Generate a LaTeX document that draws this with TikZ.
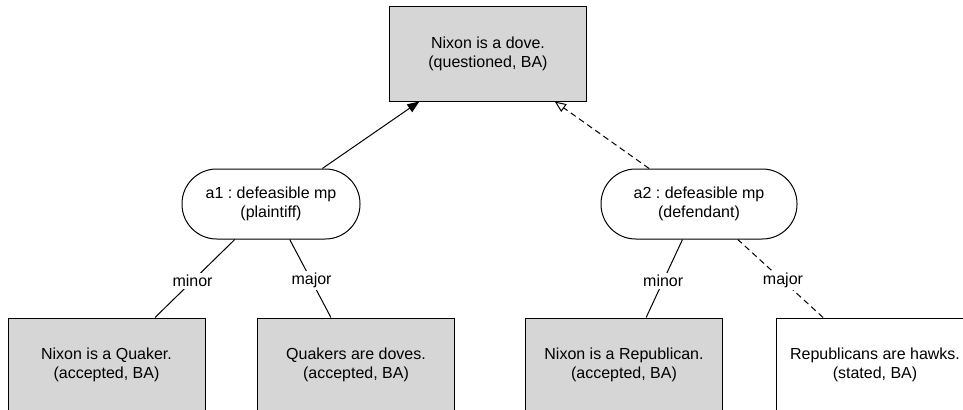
\documentclass[tikz,border=0pt]{standalone}
\usepackage{fontspec}
\setmainfont{Liberation Sans}
\usetikzlibrary{arrows.meta}
\frenchspacing

\definecolor{claimgray}{RGB}{214,214,214}
\tikzset{every picture/.style={line width=0.75pt}}
\tikzset{
  claim/.style={draw, fill=claimgray, minimum width=147.75pt, minimum height=70.5pt,
    align=center, inner sep=0.75pt, font=\fontsize{12}{14.4}\selectfont},
  stated/.style={claim, fill=white},
  argnode/.style={draw, fill=white, rounded corners=26pt, minimum height=52.5pt,
    align=center, inner sep=0.75pt, font=\fontsize{12}{14.4}\selectfont},
  edgelabel/.style={fill=white, inner sep=1.5pt, font=\fontsize{12}{14.4}\selectfont},
  support/.style={-{Triangle[length=9pt,width=7pt]}},
  attack/.style={dash pattern=on 4.5pt off 3pt, -{Triangle[open,length=8.5pt,width=7pt]}},
}

\begin{document}
\begin{tikzpicture}[x=0.75pt,y=0.75pt,yscale=-1,xscale=1]
\useasboundingbox (0,0) rectangle (963,410);
\clip (0,0) rectangle (963,410);

%Shape: Rectangle [id:dove]
\node [claim] (dove) at (488,54) {Nixon is a dove.\\(questioned, BA)};
%Shape: Rounded Rect [id:a1]
\node [argnode, minimum width=133.5pt] (a1) at (271,204) {a1 : defeasible mp\\(plaintiff)};
%Shape: Rounded Rect [id:a2]
\node [argnode, minimum width=147pt] (a2) at (699,204) {a2 : defeasible mp\\(defendant)};
%Shape: Rectangle [id:quaker]
\node [claim] (quaker) at (106.5,365) {Nixon is a Quaker.\\(accepted, BA)};
%Shape: Rectangle [id:qdoves]
\node [claim] (qdoves) at (356,365) {Quakers are doves.\\(accepted, BA)};
%Shape: Rectangle [id:repub]
\node [claim] (repub) at (624,365) {Nixon is a Republican.\\(accepted, BA)};
%Shape: Rectangle [id:rhawks]
\node [stated] (rhawks) at (875,365) {Republicans are hawks.\\(stated, BA)};

%Straight Lines
\draw [support] (a1) -- (dove);
\draw [attack] (a2) -- (dove);
\draw (quaker) -- node [edgelabel, pos=0.47] {minor} (a1);
\draw (qdoves) -- node [edgelabel, pos=0.47] {major} (a1);
\draw (repub) -- node [edgelabel, pos=0.47] {minor} (a2);
\draw [dash pattern=on 4.5pt off 3pt] (rhawks) -- node [edgelabel, pos=0.47] {major} (a2);

\end{tikzpicture}
\end{document}
